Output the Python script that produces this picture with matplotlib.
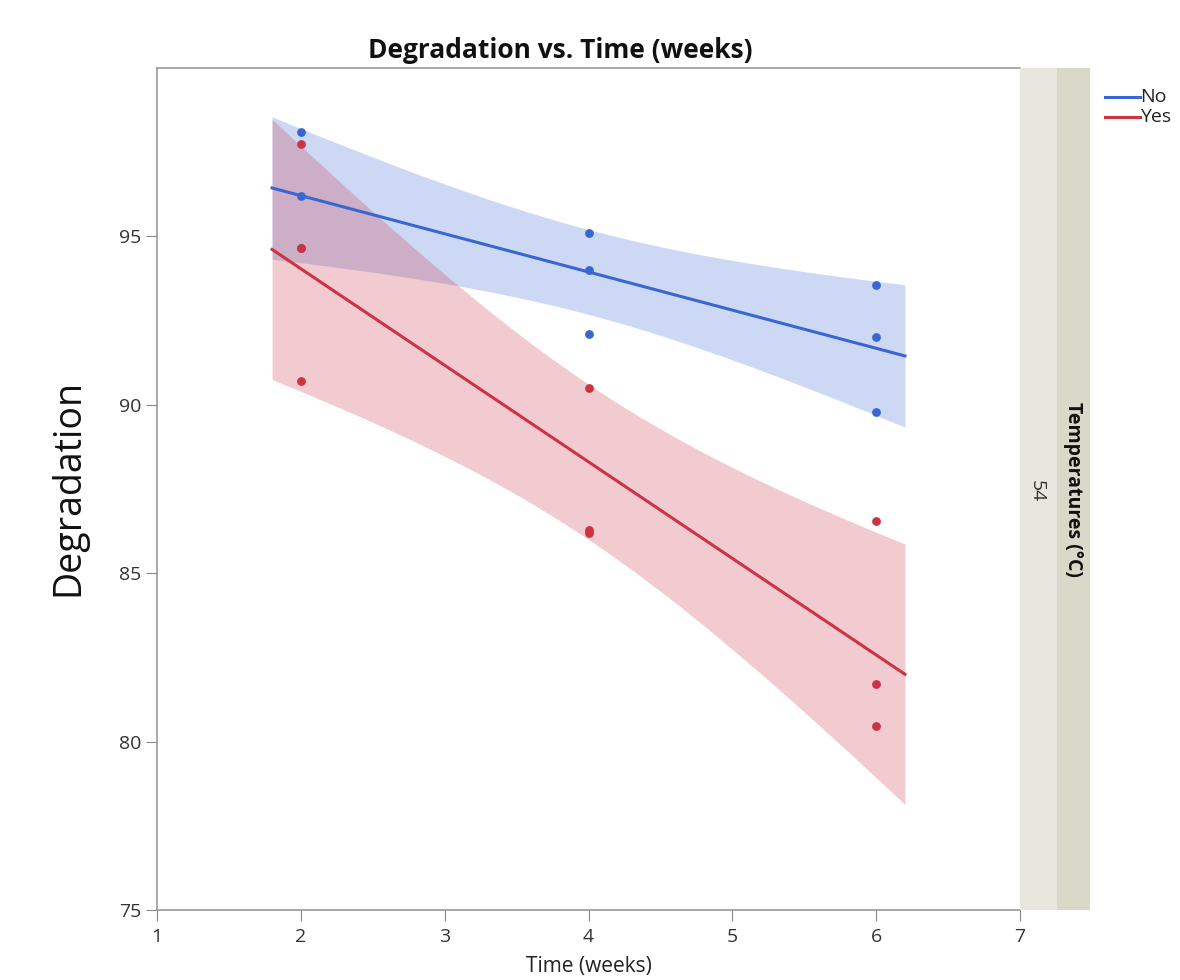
import numpy as np
import matplotlib
matplotlib.use("Agg")
import matplotlib.pyplot as plt
from matplotlib.lines import Line2D
from matplotlib.patches import Rectangle

plt.rcParams['font.family'] = ['Open Sans', 'DejaVu Sans']

# ---- data ----
time_no = [2, 2, 2, 4, 4, 4, 6, 6, 6]
deg_no = [98.1, 96.2, 94.65, 95.1, 94.0, 92.1, 93.55, 92.0, 89.8]
time_yes = [2, 2, 2, 4, 4, 4, 6, 6, 6]
deg_yes = [97.75, 94.65, 90.7, 90.5, 86.28, 86.18, 86.55, 81.7, 80.45]
groups = ["No", "Yes"]
colors = {"No": "#3a66d4", "Yes": "#cc3344"}
x_ticks = [1, 2, 3, 4, 5, 6, 7]
y_ticks = [75, 80, 85, 90, 95]
temperature = "54"

W, H = 1180, 980
fig = plt.figure(figsize=(W / 100, H / 100), dpi=100)
ax = fig.add_axes([157 / W, 1 - 910 / H, (1020 - 157) / W, (910 - 68) / H])

T_CRIT = 2.3646  # t(0.975, df=7)


def fit_band(x, y, xs):
    x = np.asarray(x, float)
    y = np.asarray(y, float)
    n = len(x)
    b, a = np.polyfit(x, y, 1)
    resid = y - (a + b * x)
    s = np.sqrt(np.sum(resid ** 2) / (n - 2))
    sxx = np.sum((x - x.mean()) ** 2)
    yhat = a + b * xs
    se = s * np.sqrt(1 / n + (xs - x.mean()) ** 2 / sxx)
    return yhat, yhat - T_CRIT * se, yhat + T_CRIT * se


xs = np.linspace(1.8, 6.2, 200)
for g, tx, dy in [("No", time_no, deg_no), ("Yes", time_yes, deg_yes)]:
    c = colors[g]
    yhat, lo, hi = fit_band(tx, dy, xs)
    ax.fill_between(xs, lo, hi, color=c, alpha=0.25, linewidth=0, zorder=1)
    ax.plot(xs, yhat, color=c, lw=2.2, zorder=3)
    ax.scatter(tx, dy, s=40, color=c, zorder=4, linewidths=0)

ax.set_xlim(1, 7)
ax.set_ylim(75, 100)
ax.set_xticks(x_ticks)
ax.set_yticks(y_ticks)
ax.tick_params(axis='both', direction='out', length=8, color='#888888',
               labelsize=14, labelcolor='#333333')
ax.tick_params(axis='x', pad=5)
for side in ['left', 'bottom', 'top']:
    ax.spines[side].set_color('#999999')
    ax.spines[side].set_linewidth(1.2)
ax.spines['right'].set_visible(False)

ax.set_xlabel("Time (weeks)", fontsize=15, color='#222222', labelpad=7)
fig.text(68 / W, 1 - 488 / H, "Degradation", rotation=90, fontsize=27,
         ha='center', va='center', color='#111111')
fig.text(560 / W, 1 - 50 / H, "Degradation vs. Time (weeks)", fontsize=19,
         fontweight='bold', ha='center', va='center', color='#111111')

# right strip panels
fig.add_artist(Rectangle((1020 / W, 1 - 910 / H), 37 / W, (910 - 68) / H,
                         transform=fig.transFigure, facecolor='#e7e7df',
                         edgecolor='none'))
fig.add_artist(Rectangle((1057 / W, 1 - 910 / H), 33 / W, (910 - 68) / H,
                         transform=fig.transFigure, facecolor='#d9d8c9',
                         edgecolor='none'))
fig.text(1037 / W, 1 - 491 / H, temperature, rotation=-90, fontsize=14,
         ha='center', va='center', color='#333333')
fig.text(1073 / W, 1 - 489 / H, "Temperatures (°C)", rotation=-90, fontsize=14,
         fontweight='bold', ha='center', va='center', color='#111111')

# legend (cut at figure edge)
for i, g in enumerate(groups):
    yy = 1 - (97 + 20 * i) / H
    fig.add_artist(Line2D([1105 / W, 1140 / W], [yy, yy], transform=fig.transFigure,
                          color=colors[g], lw=2.2))
    fig.text(1140 / W, yy, g, fontsize=14, ha='left', va='center', color='#222222')

fig.savefig("out.png", dpi=100)
